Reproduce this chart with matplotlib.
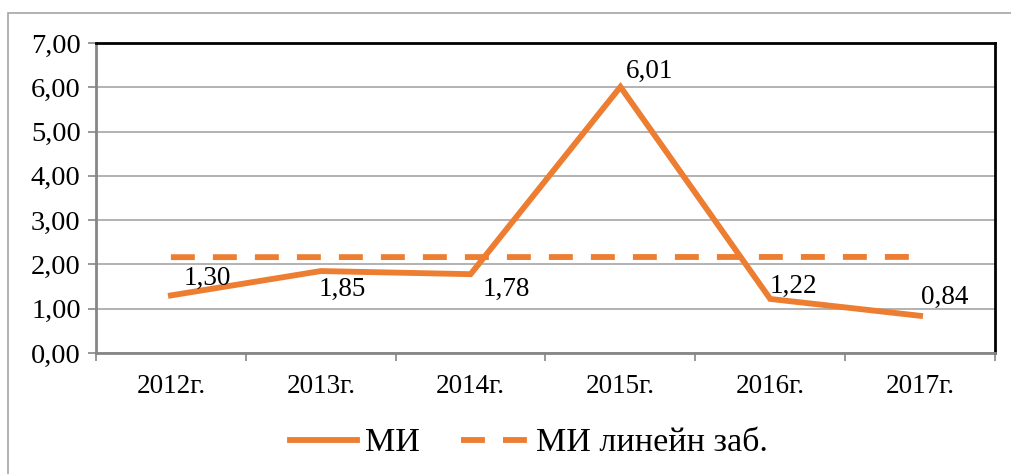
import numpy as np
import matplotlib.pyplot as plt
from matplotlib.patches import Rectangle

years = ['2012г.', '2013г.', '2014г.', '2015г.', '2016г.', '2017г.']
mi = [1.30, 1.85, 1.78, 6.01, 1.22, 0.84]
# label offsets in pixels (dx, dy) relative to each point
offsets = [(36, 17), (22, -18), (36, -15), (29, 15), (23, 13), (25, 18)]

plt.rcParams['font.family'] = ['Liberation Serif', 'DejaVu Serif']
orange = '#ED7D31'

fig = plt.figure(figsize=(10.11, 4.74), dpi=100)
# outer chart border (left + top visible)
fig.patches.append(Rectangle((8/1011, -0.1), 1.2, (474-13)/474 + 0.1, transform=fig.transFigure,
                             fill=False, edgecolor='#A6A6A6', linewidth=1.2))

ax = fig.add_axes([96/1011, 1-353/474, (995-96)/1011, (353-43)/474])
x = np.arange(len(years))

# linear trend line (like Excel linear trendline)
k, b = np.polyfit(x, mi, 1)
trend = k * x + b
ax.plot(x, trend, color=orange, lw=4.2, dashes=(4.1, 3.1), label='МИ линейн заб.', zorder=2)
ax.plot(x, mi, color=orange, lw=4.2, label='МИ', zorder=3, solid_joinstyle='miter')

for xi, v, (dx, dy) in zip(x, mi, offsets):
    ax.annotate(f'{v:.2f}'.replace('.', ','), (xi, v), xytext=(dx * 0.72, dy * 0.72),
                textcoords='offset points', ha='center', va='center', fontsize=19.5, zorder=4)

ax.set_xlim(-0.5, len(years) - 0.5)
ax.set_ylim(0, 7)
ax.set_yticks(np.arange(0, 8, 1))
ax.set_yticklabels([f'{t:.2f}'.replace('.', ',') for t in range(8)])
ax.set_xticks(np.arange(-0.5, len(years), 1))
ax.set_xticklabels([])
ax.set_xticks(x, minor=True)
ax.set_xticklabels(years, minor=True)
ax.tick_params(axis='x', which='minor', length=0, pad=15, labelsize=19.5)
ax.tick_params(axis='x', which='major', length=6, color='#868686', width=1.2)
ax.tick_params(axis='y', length=6, color='#868686', width=1.2, labelsize=20.5, pad=5)
ax.grid(axis='y', color='#A6A6A6', lw=1.2)
ax.set_axisbelow(True)
for s in ['left', 'bottom']:
    ax.spines[s].set_color('#868686')
    ax.spines[s].set_linewidth(2)
for s in ['top', 'right']:
    ax.spines[s].set_color('black')
    ax.spines[s].set_linewidth(2)

h, l = ax.get_legend_handles_labels()
fig.legend(h[::-1], l[::-1], loc='center', bbox_to_anchor=(529/1011, 1-443/474), ncol=2,
           frameon=False, fontsize=24.5, handlelength=1.95, handletextpad=0.25, columnspacing=1.2)

fig.savefig('out.png', dpi=100)
